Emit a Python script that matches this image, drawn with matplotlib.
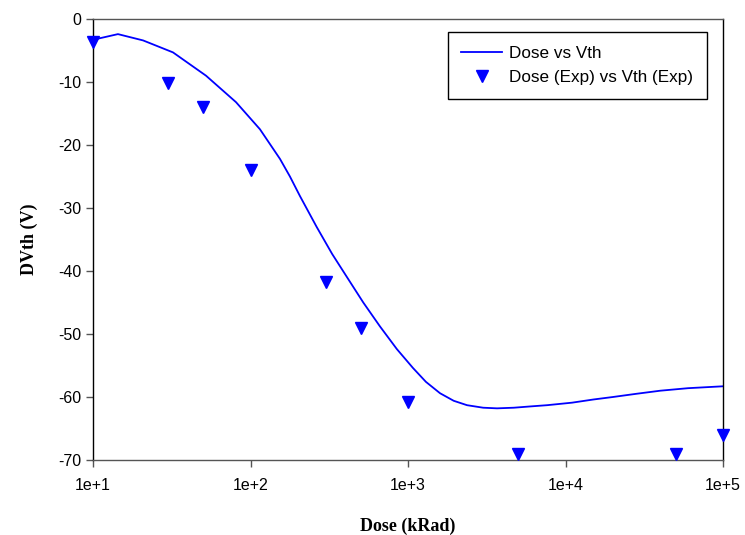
import matplotlib.pyplot as plt
from matplotlib.ticker import FixedLocator, FixedFormatter

plt.rcParams["axes.unicode_minus"] = False

# Simulated curve
dose_sim = [10, 14.4, 20.8, 32.2, 52.2, 80.9, 114.8, 153.8, 178, 206, 263, 330,
            408, 520, 664, 850, 1076, 1300, 1597, 1950, 2370, 3000, 3675, 4700,
            5955, 7640, 11000, 15000, 20000, 28000, 40000, 60000, 100000]
vth_sim = [-3.3, -2.4, -3.4, -5.3, -9.0, -13.2, -17.5, -22.2, -25.0, -28.1, -33.0, -37.3,
           -40.9, -45.0, -48.8, -52.4, -55.4, -57.6, -59.4, -60.6, -61.3, -61.7, -61.8, -61.7,
           -61.5, -61.3, -60.9, -60.4, -60.0, -59.5, -59.0, -58.6, -58.3]

# Experimental points
dose_exp = [10, 30, 50, 100, 300, 500, 1000, 5000, 50000, 100000]
vth_exp = [-3.7, -10.2, -14.0, -24.0, -41.7, -49.0, -60.8, -69.0, -69.0, -66.0]

xticks = [10, 100, 1000, 10000, 100000]
xtick_labels = ["1e+1", "1e+2", "1e+3", "1e+4", "1e+5"]
yticks = [0, -10, -20, -30, -40, -50, -60, -70]

fig = plt.figure(figsize=(7.45, 5.35), dpi=100)
ax = fig.add_axes([93 / 745, 75 / 535, 630 / 745, 441 / 535])

ax.plot(dose_sim, vth_sim, color="#0000ff", lw=1.3, label="Dose vs Vth", clip_on=False)
ax.plot(dose_exp, vth_exp, linestyle="none", marker="v", markersize=8, color="#0000ff",
        label="Dose (Exp) vs Vth (Exp)", clip_on=False, zorder=5)

ax.set_xscale("log")
ax.set_xlim(10, 100000)
ax.set_ylim(-70, 0)
ax.xaxis.set_major_locator(FixedLocator(xticks))
ax.xaxis.set_major_formatter(FixedFormatter(xtick_labels))
ax.xaxis.set_minor_locator(FixedLocator([]))
ax.set_yticks(yticks)

for s in ax.spines.values():
    s.set_color("#555555")
    s.set_linewidth(1.0)
ax.spines["left"].set_color("black")
ax.spines["right"].set_color("black")

ax.tick_params(axis="both", direction="out", length=5, width=1, colors="#555555",
               labelcolor="black", labelsize=11.5)
ax.tick_params(axis="x", pad=8)
for lab in ax.get_xticklabels() + ax.get_yticklabels():
    lab.set_family("Liberation Sans")

ax.set_xlabel("Dose (kRad)", family="Liberation Serif", fontweight="bold", fontsize=13, labelpad=18)
ax.set_ylabel("DVth (V)", family="Liberation Serif", fontweight="bold", fontsize=13, labelpad=14)

leg = ax.legend(loc="upper right", bbox_to_anchor=(0.9746, 0.9705), borderaxespad=0,
                fancybox=False, edgecolor="black", framealpha=1,
                prop={"family": "Liberation Sans", "size": 12.3},
                handlelength=2.35, borderpad=0.8, labelspacing=0.55, handletextpad=0.45)
leg.get_frame().set_linewidth(1.0)

plt.savefig("out.png", dpi=100)
plt.close()
